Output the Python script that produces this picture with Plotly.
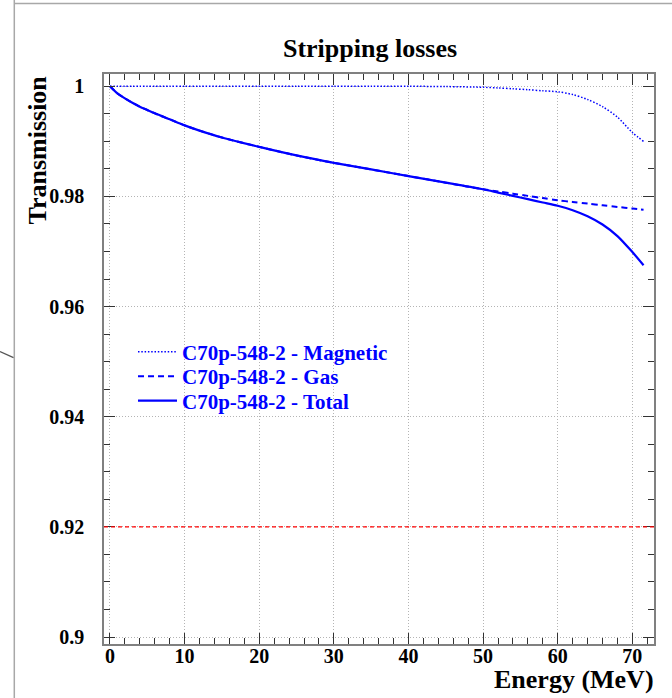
import plotly.graph_objects as go

# Beam energy along the extraction path (MeV)
energy = [0, 1, 2, 3, 4, 5, 6, 8, 10, 12, 15, 20, 25, 30, 35, 40, 45, 50,
          52, 54, 56, 58, 60, 62, 64, 66, 68, 70, 71.5]

# Transmission after magnetic (Lorentz) stripping
magnetic = [1.0, 1.0, 1.0, 1.0, 1.0, 1.0, 1.0, 1.0, 1.0, 1.0, 1.0, 1.0, 1.0,
            1.0, 1.0, 1.0, 0.99995, 0.99982,
            0.99970, 0.99955, 0.99938, 0.99918, 0.99900, 0.99850, 0.99760,
            0.99630, 0.99440, 0.99160, 0.99000]

# Transmission after residual gas stripping
gas = [1.0, 0.9987, 0.9978, 0.9970, 0.9963, 0.9957, 0.9951, 0.9940, 0.9929,
       0.99195, 0.9907, 0.9890, 0.98745, 0.9861, 0.9849, 0.9837, 0.9825,
       0.9813, 0.9809, 0.9805, 0.9801, 0.9797, 0.9793, 0.9790, 0.9787,
       0.9784, 0.9781, 0.9778, 0.9776]

# Combined transmission
total = [1.0, 0.9987, 0.9978, 0.9970, 0.9963, 0.9957, 0.9951, 0.9940, 0.9929,
         0.99195, 0.9907, 0.9890, 0.98745, 0.9861, 0.9849, 0.9837, 0.9825,
         0.9813, 0.9807, 0.9801, 0.9795, 0.9789, 0.9783, 0.9775, 0.9764,
         0.9749, 0.9728, 0.9699, 0.9675]

threshold = 0.92

series_names = ["C70p-548-2 - Magnetic", "C70p-548-2 - Gas",
                "C70p-548-2 - Total"]

x_ticks = [0, 10, 20, 30, 40, 50, 60, 70]
y_ticks = [0.9, 0.92, 0.94, 0.96, 0.98, 1.0]
y_tick_text = ["0.9", "0.92", "0.94", "0.96", "0.98", "1"]

W, H = 672, 698
L, R, T, B = 104, 654, 74, 644  # plot frame in pixels
BLUE = "#0000ff"
SERIF = "Liberation Serif"


def px_x(p):
    return (p - L) / (R - L)


def px_y(p):
    return (B - p) / (B - T)


fig = go.Figure()

styles = [
    dict(color=BLUE, width=1.5, dash="1.5px,1.8px"),
    dict(color=BLUE, width=2, dash="6px,4px"),
    dict(color=BLUE, width=2.2),
]
legend_ids = ["legend", "legend2", "legend3"]
for ys, name, style, lg in zip([magnetic, gas, total], series_names,
                               styles, legend_ids):
    fig.add_trace(go.Scatter(
        x=energy, y=ys, mode="lines", name=name, legend=lg,
        line=dict(shape="spline", smoothing=0.8, **style),
    ))

# Acceptance threshold across the whole frame
fig.add_shape(type="line", xref="x domain", yref="y", x0=0, x1=1,
              y0=threshold, y1=threshold,
              line=dict(color="#ff0000", width=1.3, dash="4px,3px"))

# Window edges around the canvas
fig.add_shape(type="line", xref="paper", yref="paper",
              x0=px_x(14.3), x1=px_x(14.3), y0=px_y(0), y1=px_y(H),
              line=dict(color="#a8a8a8", width=1.5))
fig.add_shape(type="line", xref="paper", yref="paper",
              x0=px_x(14.3), x1=px_x(W), y0=px_y(3.5), y1=px_y(3.5),
              line=dict(color="#a8a8a8", width=1.5))
fig.add_shape(type="line", xref="paper", yref="paper",
              x0=px_x(0), x1=px_x(13.5), y0=px_y(351.5), y1=px_y(357.7),
              line=dict(color="#555555", width=1.3))

axis_common = dict(
    showline=True, linecolor="#808080", linewidth=1.5, mirror="ticks",
    ticks="inside", ticklen=11, tickwidth=1, tickcolor="#333333",
    showgrid=True, gridcolor="#b4b4b4", gridwidth=1, griddash="1px,2px",
    zeroline=False,
    tickfont=dict(family=SERIF, size=20, color="black", weight="bold"),
)

fig.update_xaxes(
    range=[-0.8, 72.9], tickvals=x_ticks,
    minor=dict(dtick=2, ticks="inside", ticklen=6, tickcolor="#333333",
               showgrid=False),
    ticklabelstandoff=-7,
    **axis_common,
)
fig.update_yaxes(
    range=[0.89873, 1.00223], tickvals=y_ticks, ticktext=y_tick_text,
    minor=dict(dtick=0.005, tick0=0.9, ticks="inside", ticklen=6,
               tickcolor="#333333", showgrid=False),
    ticklabelstandoff=14,
    **axis_common,
)

fig.add_annotation(
    text="Energy (MeV)", xref="paper", yref="paper",
    x=px_x(656), y=px_y(679), xanchor="right", yanchor="middle",
    showarrow=False,
    font=dict(family=SERIF, size=26, color="black", weight="bold"),
)
fig.add_annotation(
    text="Transmission", xref="paper", yref="paper", textangle=-90,
    x=px_x(37), y=px_y(74), xanchor="center", yanchor="top",
    showarrow=False,
    font=dict(family=SERIF, size=26, color="black", weight="bold"),
)

legend_style = dict(
    xanchor="left", yanchor="middle", bgcolor="rgba(0,0,0,0)",
    borderwidth=0, itemwidth=39,
    font=dict(family=SERIF, size=21, color=BLUE, weight="bold"),
)
row_centers = [352, 376.5, 401]

fig.update_layout(
    width=W, height=H,
    margin=dict(l=L, r=W - R, t=T, b=H - B),
    paper_bgcolor="white", plot_bgcolor="white",
    title=dict(text="Stripping losses", xref="container", yref="container",
               x=370 / W, y=1 - 48 / H, xanchor="center", yanchor="middle",
               font=dict(family=SERIF, size=26, color="black", weight="bold")),
    showlegend=True,
    legend=dict(x=px_x(133), y=px_y(row_centers[0]), **legend_style),
    legend2=dict(x=px_x(133), y=px_y(row_centers[1]), **legend_style),
    legend3=dict(x=px_x(133), y=px_y(row_centers[2]), **legend_style),
)

fig.write_html("out.html")
